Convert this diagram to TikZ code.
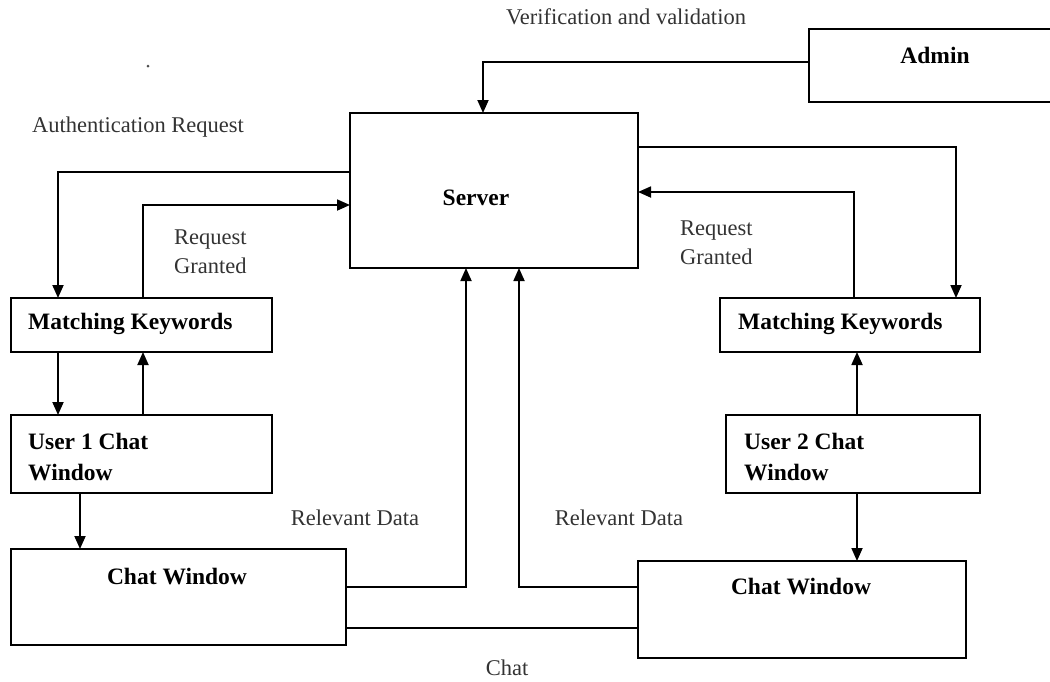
\documentclass[tikz,border=0pt]{standalone}
\usepackage{fontspec}
\setmainfont{Liberation Serif}
\usetikzlibrary{arrows.meta, positioning, calc}

\begin{document}
\begin{tikzpicture}[
  x=1pt, y=-1pt,
  >={Triangle[length=13pt, width=11pt]},
  box/.style={
    draw, line width=1.8pt, anchor=north west,
    inner sep=0pt, outer sep=0pt
  },
  boxlab/.style={font=\fontsize{23.5}{31}\selectfont\bfseries, inner sep=0pt, align=left},
  flowlab/.style={font=\fontsize{22.5}{29}\selectfont, color=black!80, inner sep=0pt, align=left},
  link/.style={line width=1.8pt},
  arr/.style={line width=1.8pt, ->},
]
\useasboundingbox (0,0) rectangle (1050,681);

%%% Boxes
\node[box, minimum width=288pt, minimum height=155pt] (server) at (350,113) {};
\node[box, minimum width=245pt, minimum height=73pt]  (admin)  at (809,29)  {};
\node[box, minimum width=261pt, minimum height=54pt]  (mk1)    at (11,298)  {};
\node[box, minimum width=261pt, minimum height=78pt]  (user1)  at (11,415)  {};
\node[box, minimum width=335pt, minimum height=96pt]  (cw1)    at (11,549)  {};
\node[box, minimum width=260pt, minimum height=54pt]  (mk2)    at (720,298) {};
\node[box, minimum width=254pt, minimum height=78pt]  (user2)  at (726,415) {};
\node[box, minimum width=328pt, minimum height=97pt]  (cw2)    at (638,561) {};

%%% Box texts
\node[boxlab] (serverlab) at (476,198) {Server};
\node[boxlab] (adminlab)  at (935,55)  {Admin};
\node[boxlab, anchor=west] (mk1lab)   at (28,324)  {Matching Keywords};
\node[boxlab, anchor=west] (mk2lab)   at (738,324) {Matching Keywords};
\node[boxlab, anchor=west] (user1lab) at (28,457)  {User 1 Chat\\Window};
\node[boxlab, anchor=west] (user2lab) at (744,457) {User 2 Chat\\Window};
\node[boxlab] (cw1lab) at (177,577) {Chat Window};
\node[boxlab] (cw2lab) at (801,587) {Chat Window};

%%% Admin -> Server
\draw[arr] (admin.west |- 0,62) -| (server.north -| 483,0);

%%% Left side: authentication and granting
\draw[arr] (server.west |- 0,172) -| (mk1.north -| 58,0);
\draw[arr] (mk1.north -| 143,0) |- (server.west |- 0,205);
\draw[arr] (mk1.south -| 58,0) -- (user1.north -| 58,0);
\draw[arr] (user1.north -| 143,0) -- (mk1.south -| 143,0);
\draw[arr] (user1.south -| 80,0) -- (cw1.north -| 80,0);

%%% Right side
\draw[arr] (server.east |- 0,147) -| (mk2.north -| 956,0);
\draw[arr] (mk2.north -| 854,0) |- (server.east |- 0,192);
\draw[arr] (user2.north -| 857,0) -- (mk2.south -| 857,0);
\draw[arr] (user2.south -| 857,0) -- (cw2.north -| 857,0);

%%% Relevant data back to the server, chat between windows
\draw[arr] (cw1.east |- 0,587) -| (server.south -| 466,0);
\draw[arr] (cw2.west |- 0,587) -| (server.south -| 519,0);
\draw[link] (cw1.east |- 0,628) -- (cw2.west |- 0,628);

%%% Flow labels
\node[flowlab] (verlab)  at (626,17)  {Verification and validation};
\node[flowlab] (authlab) at (138,127) {Authentication Request};
\node[flowlab, anchor=west] (grant1) at (174,252) {Request\\Granted};
\node[flowlab, anchor=west] (grant2) at (680,243) {Request\\Granted};
\node[flowlab] (rel1) at (355,518) {Relevant Data};
\node[flowlab] (rel2) at (619,518) {Relevant Data};
\node[flowlab] (chatlab) at (507,668) {Chat};
\fill[black!70] (148,66) circle (1.5pt);

\end{tikzpicture}
\end{document}
